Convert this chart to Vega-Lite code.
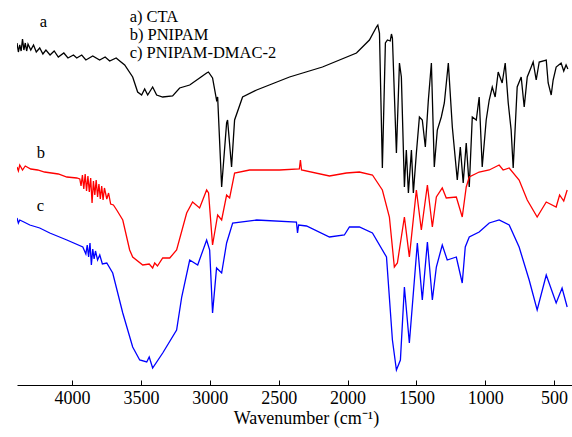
{
  "$schema": "https://vega.github.io/schema/vega-lite/v6.json",
  "width": 555,
  "height": 385,
  "autosize": {"type": "none"},
  "padding": {"left": 17, "top": 0, "right": 0, "bottom": 52},
  "background": "white",
  "config": {"view": {"stroke": null}, "font": "Liberation Serif, Times New Roman, serif"},
  "layer": [
    {
      "data": {"values": [
        {"s":"a","w":4400,"t":342},{"s":"a","w":4390,"t":333},{"s":"a","w":4380,"t":340},{"s":"a","w":4370,"t":334},{"s":"a","w":4360,"t":346},{"s":"a","w":4350,"t":335},{"s":"a","w":4340,"t":342},{"s":"a","w":4330,"t":334},{"s":"a","w":4320,"t":341},{"s":"a","w":4300,"t":335},{"s":"a","w":4280,"t":340},{"s":"a","w":4260,"t":333},{"s":"a","w":4235,"t":337},{"s":"a","w":4212,"t":331},{"s":"a","w":4190,"t":335},{"s":"a","w":4160,"t":330},{"s":"a","w":4130,"t":334},{"s":"a","w":4100,"t":328},{"s":"a","w":4060,"t":332},{"s":"a","w":4030,"t":327},{"s":"a","w":3990,"t":330},{"s":"a","w":3966,"t":327},{"s":"a","w":3930,"t":330},{"s":"a","w":3900,"t":325},{"s":"a","w":3850,"t":329},{"s":"a","w":3800,"t":325},{"s":"a","w":3760,"t":328},{"s":"a","w":3727,"t":324},{"s":"a","w":3680,"t":327},{"s":"a","w":3654,"t":324},{"s":"a","w":3618,"t":320},{"s":"a","w":3560,"t":308},{"s":"a","w":3524,"t":293},{"s":"a","w":3495,"t":290},{"s":"a","w":3473,"t":296},{"s":"a","w":3451,"t":290},{"s":"a","w":3415,"t":298},{"s":"a","w":3386,"t":290},{"s":"a","w":3342,"t":288},{"s":"a","w":3270,"t":289},{"s":"a","w":3219,"t":297},{"s":"a","w":3146,"t":300},{"s":"a","w":3074,"t":307},{"s":"a","w":3023,"t":312},{"s":"a","w":3010,"t":313},{"s":"a","w":2980,"t":307},{"s":"a","w":2951,"t":285},{"s":"a","w":2943,"t":288},{"s":"a","w":2914,"t":198},{"s":"a","w":2878,"t":262},{"s":"a","w":2871,"t":265},{"s":"a","w":2842,"t":218},{"s":"a","w":2820,"t":265},{"s":"a","w":2762,"t":288},{"s":"a","w":2660,"t":295},{"s":"a","w":2421,"t":308},{"s":"a","w":2182,"t":318},{"s":"a","w":1935,"t":332},{"s":"a","w":1841,"t":345},{"s":"a","w":1790,"t":358},{"s":"a","w":1780,"t":360},{"s":"a","w":1768,"t":352},{"s":"a","w":1747,"t":217},{"s":"a","w":1725,"t":342},{"s":"a","w":1710,"t":345},{"s":"a","w":1690,"t":344},{"s":"a","w":1681,"t":351},{"s":"a","w":1674,"t":347},{"s":"a","w":1645,"t":232},{"s":"a","w":1623,"t":322},{"s":"a","w":1609,"t":308},{"s":"a","w":1587,"t":198},{"s":"a","w":1573,"t":235},{"s":"a","w":1558,"t":192},{"s":"a","w":1536,"t":235},{"s":"a","w":1522,"t":192},{"s":"a","w":1500,"t":232},{"s":"a","w":1478,"t":268},{"s":"a","w":1457,"t":265},{"s":"a","w":1435,"t":238},{"s":"a","w":1413,"t":285},{"s":"a","w":1391,"t":322},{"s":"a","w":1370,"t":218},{"s":"a","w":1348,"t":255},{"s":"a","w":1319,"t":268},{"s":"a","w":1297,"t":282},{"s":"a","w":1268,"t":322},{"s":"a","w":1239,"t":258},{"s":"a","w":1203,"t":205},{"s":"a","w":1181,"t":238},{"s":"a","w":1160,"t":202},{"s":"a","w":1138,"t":242},{"s":"a","w":1116,"t":198},{"s":"a","w":1094,"t":268},{"s":"a","w":1065,"t":265},{"s":"a","w":1044,"t":288},{"s":"a","w":1022,"t":218},{"s":"a","w":993,"t":265},{"s":"a","w":971,"t":285},{"s":"a","w":949,"t":298},{"s":"a","w":928,"t":288},{"s":"a","w":906,"t":313},{"s":"a","w":877,"t":302},{"s":"a","w":855,"t":322},{"s":"a","w":833,"t":282},{"s":"a","w":812,"t":255},{"s":"a","w":797,"t":217},{"s":"a","w":768,"t":298},{"s":"a","w":739,"t":308},{"s":"a","w":717,"t":278},{"s":"a","w":695,"t":308},{"s":"a","w":666,"t":318},{"s":"a","w":652,"t":323},{"s":"a","w":630,"t":305},{"s":"a","w":608,"t":323},{"s":"a","w":557,"t":325},{"s":"a","w":543,"t":302},{"s":"a","w":521,"t":290},{"s":"a","w":507,"t":305},{"s":"a","w":485,"t":318},{"s":"a","w":449,"t":322},{"s":"a","w":430,"t":314},{"s":"a","w":413,"t":320},{"s":"a","w":400,"t":316},

        {"s":"b","w":4400,"t":218},{"s":"b","w":4390,"t":214},{"s":"b","w":4380,"t":220},{"s":"b","w":4360,"t":215},{"s":"b","w":4340,"t":219},{"s":"b","w":4300,"t":216},{"s":"b","w":4250,"t":215},{"s":"b","w":4200,"t":213},{"s":"b","w":4100,"t":211},{"s":"b","w":4038,"t":208},{"s":"b","w":3966,"t":207},{"s":"b","w":3944,"t":206},{"s":"b","w":3935,"t":199},{"s":"b","w":3925,"t":210},{"s":"b","w":3915,"t":196},{"s":"b","w":3905,"t":211},{"s":"b","w":3895,"t":194},{"s":"b","w":3885,"t":209},{"s":"b","w":3875,"t":193},{"s":"b","w":3865,"t":207},{"s":"b","w":3855,"t":182},{"s":"b","w":3845,"t":204},{"s":"b","w":3835,"t":190},{"s":"b","w":3825,"t":205},{"s":"b","w":3815,"t":188},{"s":"b","w":3805,"t":201},{"s":"b","w":3795,"t":186},{"s":"b","w":3785,"t":199},{"s":"b","w":3775,"t":185},{"s":"b","w":3765,"t":197},{"s":"b","w":3748,"t":186},{"s":"b","w":3735,"t":192},{"s":"b","w":3720,"t":181},{"s":"b","w":3700,"t":180},{"s":"b","w":3676,"t":175},{"s":"b","w":3632,"t":165},{"s":"b","w":3582,"t":135},{"s":"b","w":3560,"t":128},{"s":"b","w":3487,"t":120},{"s":"b","w":3440,"t":121},{"s":"b","w":3415,"t":117},{"s":"b","w":3400,"t":122},{"s":"b","w":3380,"t":119},{"s":"b","w":3342,"t":127},{"s":"b","w":3291,"t":127},{"s":"b","w":3241,"t":135},{"s":"b","w":3168,"t":172},{"s":"b","w":3125,"t":183},{"s":"b","w":3074,"t":177},{"s":"b","w":3023,"t":195},{"s":"b","w":3009,"t":192},{"s":"b","w":2980,"t":140},{"s":"b","w":2943,"t":170},{"s":"b","w":2914,"t":165},{"s":"b","w":2878,"t":190},{"s":"b","w":2856,"t":187},{"s":"b","w":2820,"t":212},{"s":"b","w":2711,"t":215},{"s":"b","w":2494,"t":215},{"s":"b","w":2350,"t":216},{"s":"b","w":2342,"t":225},{"s":"b","w":2334,"t":215},{"s":"b","w":2131,"t":209},{"s":"b","w":2008,"t":212},{"s":"b","w":1914,"t":213},{"s":"b","w":1819,"t":210},{"s":"b","w":1747,"t":195},{"s":"b","w":1696,"t":168},{"s":"b","w":1660,"t":118},{"s":"b","w":1638,"t":122},{"s":"b","w":1587,"t":168},{"s":"b","w":1551,"t":128},{"s":"b","w":1500,"t":195},{"s":"b","w":1464,"t":155},{"s":"b","w":1420,"t":200},{"s":"b","w":1384,"t":158},{"s":"b","w":1355,"t":188},{"s":"b","w":1312,"t":197},{"s":"b","w":1283,"t":187},{"s":"b","w":1210,"t":188},{"s":"b","w":1167,"t":168},{"s":"b","w":1138,"t":198},{"s":"b","w":1116,"t":208},{"s":"b","w":1044,"t":213},{"s":"b","w":971,"t":215},{"s":"b","w":899,"t":220},{"s":"b","w":870,"t":215},{"s":"b","w":826,"t":217},{"s":"b","w":754,"t":205},{"s":"b","w":695,"t":185},{"s":"b","w":623,"t":168},{"s":"b","w":557,"t":183},{"s":"b","w":485,"t":178},{"s":"b","w":460,"t":190},{"s":"b","w":430,"t":184},{"s":"b","w":405,"t":195},

        {"s":"c","w":4400,"t":167},{"s":"c","w":4390,"t":162},{"s":"c","w":4380,"t":165},{"s":"c","w":4350,"t":163},{"s":"c","w":4307,"t":160},{"s":"c","w":4235,"t":157},{"s":"c","w":4162,"t":152},{"s":"c","w":4038,"t":145},{"s":"c","w":3922,"t":138},{"s":"c","w":3900,"t":131},{"s":"c","w":3890,"t":140},{"s":"c","w":3880,"t":128},{"s":"c","w":3870,"t":142},{"s":"c","w":3860,"t":120},{"s":"c","w":3850,"t":136},{"s":"c","w":3840,"t":126},{"s":"c","w":3830,"t":134},{"s":"c","w":3815,"t":125},{"s":"c","w":3799,"t":130},{"s":"c","w":3780,"t":121},{"s":"c","w":3748,"t":122},{"s":"c","w":3705,"t":112},{"s":"c","w":3632,"t":72},{"s":"c","w":3560,"t":38},{"s":"c","w":3509,"t":25},{"s":"c","w":3458,"t":23},{"s":"c","w":3440,"t":28},{"s":"c","w":3415,"t":17},{"s":"c","w":3342,"t":32},{"s":"c","w":3241,"t":55},{"s":"c","w":3204,"t":88},{"s":"c","w":3146,"t":125},{"s":"c","w":3088,"t":120},{"s":"c","w":3023,"t":145},{"s":"c","w":3001,"t":135},{"s":"c","w":2980,"t":72},{"s":"c","w":2951,"t":117},{"s":"c","w":2914,"t":112},{"s":"c","w":2878,"t":142},{"s":"c","w":2834,"t":162},{"s":"c","w":2660,"t":165},{"s":"c","w":2371,"t":163},{"s":"c","w":2363,"t":152},{"s":"c","w":2355,"t":160},{"s":"c","w":2298,"t":159},{"s":"c","w":2131,"t":148},{"s":"c","w":2023,"t":150},{"s":"c","w":1986,"t":158},{"s":"c","w":1914,"t":158},{"s":"c","w":1819,"t":152},{"s":"c","w":1717,"t":128},{"s":"c","w":1674,"t":45},{"s":"c","w":1645,"t":15},{"s":"c","w":1616,"t":25},{"s":"c","w":1587,"t":98},{"s":"c","w":1551,"t":42},{"s":"c","w":1493,"t":142},{"s":"c","w":1457,"t":85},{"s":"c","w":1420,"t":143},{"s":"c","w":1384,"t":85},{"s":"c","w":1355,"t":118},{"s":"c","w":1312,"t":140},{"s":"c","w":1276,"t":125},{"s":"c","w":1210,"t":128},{"s":"c","w":1167,"t":102},{"s":"c","w":1145,"t":138},{"s":"c","w":1116,"t":148},{"s":"c","w":1044,"t":153},{"s":"c","w":971,"t":162},{"s":"c","w":899,"t":165},{"s":"c","w":826,"t":160},{"s":"c","w":754,"t":138},{"s":"c","w":681,"t":105},{"s":"c","w":623,"t":75},{"s":"c","w":557,"t":110},{"s":"c","w":485,"t":82},{"s":"c","w":442,"t":97},{"s":"c","w":405,"t":78}
      ]},
      "mark": {"type": "line", "strokeWidth": 1.3, "clip": true},
      "encoding": {
        "x": {"field": "w", "type": "quantitative", "scale": {"domain": [370, 4400], "reverse": true, "nice": false},
          "axis": {"title": "Wavenumber (cm⁻¹)", "values": [4000, 3500, 3000, 2500, 2000, 1500, 1000, 500], "format": "d", "grid": false, "domainColor": "black", "domainWidth": 1.2, "tickColor": "black", "tickSize": -5, "tickWidth": 1, "labelPadding": 9, "labelFontSize": 18, "labelColor": "black", "labelFont": "Liberation Serif, Times New Roman, serif", "titleFont": "Liberation Serif, Times New Roman, serif", "titleFontSize": 18, "titleFontWeight": "normal", "titleColor": "black", "titlePadding": 2, "titleX": 289}},
        "y": {"field": "t", "type": "quantitative", "scale": {"domain": [0, 385], "nice": false}, "axis": null},
        "color": {"field": "s", "type": "nominal", "scale": {"domain": ["a", "b", "c"], "range": ["#000000", "#ff0000", "#0000ff"]}, "legend": null},
        "order": {"field": "w", "sort": "descending"}
      }
    },
    {
      "data": {"values": [
        {"w": 4234, "t": 363, "label": "a"},
        {"w": 4256, "t": 232, "label": "b"},
        {"w": 4256, "t": 179, "label": "c"},
        {"w": 3582, "t": 368, "label": "a) CTA"},
        {"w": 3582, "t": 350, "label": "b) PNIPAM"},
        {"w": 3582, "t": 332, "label": "c) PNIPAM-DMAC-2"}
      ]},
      "mark": {"type": "text", "align": "left", "baseline": "middle", "font": "Liberation Serif, Times New Roman, serif", "fontSize": 16.5, "color": "black"},
      "encoding": {
        "x": {"field": "w", "type": "quantitative"},
        "y": {"field": "t", "type": "quantitative"},
        "text": {"field": "label"}
      }
    }
  ]
}
